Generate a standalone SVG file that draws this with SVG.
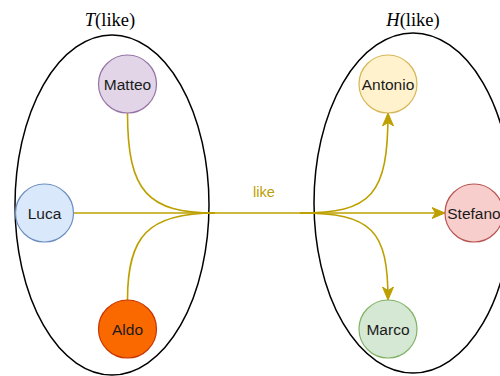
<svg xmlns="http://www.w3.org/2000/svg" width="500" height="376" viewBox="0 0 500 376">
<defs>
<style>
.set{fill:none;stroke:#000;stroke-width:1.5}
.title{font-family:"Liberation Serif","DejaVu Serif",serif;font-size:18.5px;fill:#000;text-anchor:middle}
.lbl{font-family:"Liberation Sans",Arial,sans-serif;font-size:15.5px;fill:#1a1a1a;text-anchor:middle;dominant-baseline:central}
.edge{fill:none;stroke:#BDA000;stroke-width:1.6}
</style>
<marker id="arr" markerUnits="userSpaceOnUse" markerWidth="14" markerHeight="14" viewBox="0 0 14 14" refX="13" refY="7" orient="auto">
<path d="M0,1.5 L13,7 L0,12.5 L3.5,7 Z" fill="#BDA000" stroke="#BDA000" stroke-width="1"/>
</marker>
</defs>
<rect width="500" height="376" fill="#fff"/>
<g id="setT">
<ellipse class="set" cx="112" cy="205" rx="97" ry="170"/>
<text class="title" x="110" y="26"><tspan font-style="italic">T</tspan>(like)</text>
</g>
<g id="setH">
<ellipse class="set" cx="413" cy="203" rx="99" ry="170"/>
<text class="title" x="413" y="26"><tspan font-style="italic">H</tspan>(like)</text>
</g>
<g id="connectors">
<path class="edge" d="M127.5,113 C127.5,192 148,213 215,213"/>
<path class="edge" d="M127.5,300 C127.5,236 148,213 215,213"/>
<path class="edge" d="M73,213 L445,213" marker-end="url(#arr)"/>
<path class="edge" d="M300,213 C372,213 388,195 388,113" marker-end="url(#arr)"/>
<path class="edge" d="M300,213 C372,213 388,230 388,300" marker-end="url(#arr)"/>
<text x="264" y="197" font-family="Liberation Sans,Arial,sans-serif" font-size="14.5" fill="#BDA000" text-anchor="middle">like</text>
</g>
<g id="Matteo"><circle cx="127.5" cy="84" r="29" fill="#e1d5e7" stroke="#9673a6" stroke-width="1.2"/><text class="lbl" x="127.5" y="84">Matteo</text></g>
<g id="Luca"><circle cx="44.5" cy="213" r="29" fill="#dae8fc" stroke="#6c8ebf" stroke-width="1.2"/><text class="lbl" x="44.5" y="213">Luca</text></g>
<g id="Aldo"><circle cx="127.5" cy="329" r="29" fill="#fa6800" stroke="#C73500" stroke-width="1.2"/><text class="lbl" x="127.5" y="329">Aldo</text></g>
<g id="Antonio"><circle cx="388" cy="84" r="29" fill="#fff2cc" stroke="#d6b656" stroke-width="1.2"/><text class="lbl" x="388" y="84">Antonio</text></g>
<g id="Stefano"><circle cx="474" cy="213" r="29" fill="#f8cecc" stroke="#b85450" stroke-width="1.2"/><text class="lbl" x="474" y="213">Stefano</text></g>
<g id="Marco"><circle cx="388" cy="329" r="29" fill="#d5e8d4" stroke="#82b366" stroke-width="1.2"/><text class="lbl" x="388" y="329">Marco</text></g>
</svg>
